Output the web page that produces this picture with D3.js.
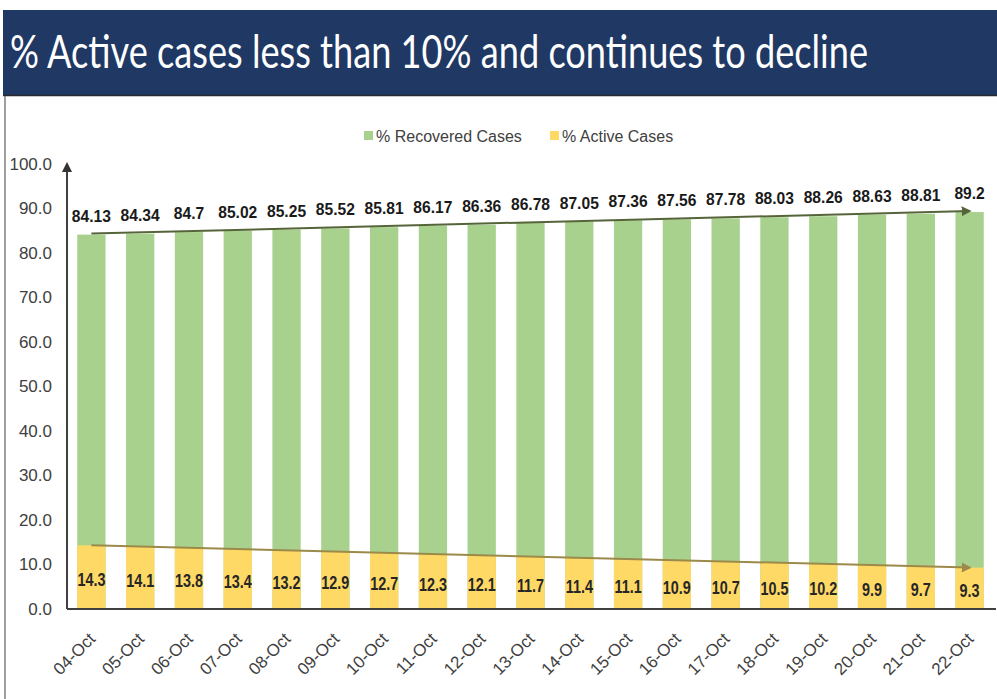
<!DOCTYPE html>
<html>
<head>
<meta charset="utf-8">
<script src="https://cdn.jsdelivr.net/npm/d3@7"></script>
<style>
  body { margin: 0; background: #fff; }
  svg { display: block; }
</style>
</head>
<body>
<script>
// data
var dates = ['04-Oct','05-Oct','06-Oct','07-Oct','08-Oct','09-Oct','10-Oct','11-Oct','12-Oct','13-Oct',
             '14-Oct','15-Oct','16-Oct','17-Oct','18-Oct','19-Oct','20-Oct','21-Oct','22-Oct'];
var recovered = [84.13, 84.34, 84.7, 85.02, 85.25, 85.52, 85.81, 86.17, 86.36, 86.78,
                 87.05, 87.36, 87.56, 87.78, 88.03, 88.26, 88.63, 88.81, 89.2];
var active = [14.3, 14.1, 13.8, 13.4, 13.2, 12.9, 12.7, 12.3, 12.1, 11.7,
              11.4, 11.1, 10.9, 10.7, 10.5, 10.2, 9.9, 9.7, 9.3];
var yTicks = [0, 10, 20, 30, 40, 50, 60, 70, 80, 90, 100];
var seriesNames = ['% Recovered Cases', '% Active Cases'];

var width = 997, height = 699;
var green = '#a9d18e', yellow = '#ffd966';
var labelFont = '"Liberation Sans", Arial, sans-serif';

var svg = d3.select('body').append('svg')
    .attr('width', width)
    .attr('height', height);

var defs = svg.append('defs');
function arrow(id, color) {
    defs.append('marker')
        .attr('id', id)
        .attr('viewBox', '0 0 10 10')
        .attr('refX', 8).attr('refY', 5)
        .attr('markerWidth', 5).attr('markerHeight', 5)
        .attr('orient', 'auto')
        .append('path')
        .attr('d', 'M0,0 L10,5 L0,10 z')
        .attr('fill', color);
}
arrow('arrAxis', '#333');
arrow('arrTop', '#56643a');
arrow('arrBot', '#9c8a4a');

// header
svg.append('rect')
    .attr('x', 3).attr('y', 10)
    .attr('width', width - 3).attr('height', 85)
    .attr('fill', '#1f3864');
svg.append('line')
    .attr('x1', 3).attr('x2', width)
    .attr('y1', 95.5).attr('y2', 95.5)
    .attr('stroke', '#2a2a2a').attr('stroke-width', 1.5);
svg.append('text')
    .attr('transform', 'translate(10,68) scale(1,1.15)')
    .attr('fill', '#fff')
    .style('font-family', 'Lato, "Open Sans", sans-serif')
    .style('font-size', '41px')
    .attr('textLength', 858)
    .attr('lengthAdjust', 'spacingAndGlyphs')
    .text('% Active cases less than 10% and continues to decline');

// left frame line
svg.append('line')
    .attr('x1', 5).attr('x2', 5)
    .attr('y1', 96).attr('y2', height)
    .attr('stroke', '#7f7f7f').attr('stroke-width', 1.5);

var x = d3.scaleBand()
    .domain(dates)
    .range([67, 994])
    .paddingInner(0.42)
    .paddingOuter(0.21);

var y = d3.scaleLinear()
    .domain([0, 100])
    .range([609, 164]);

// legend
var legend = svg.append('g').attr('transform', 'translate(364,136)');
var legendItems = [{name: seriesNames[0], color: green, dx: 0}, {name: seriesNames[1], color: yellow, dx: 186}];
legendItems.forEach(function(d) {
    var g = legend.append('g').attr('transform', 'translate(' + d.dx + ',0)');
    g.append('rect').attr('x', 0).attr('y', -5).attr('width', 9).attr('height', 9).attr('fill', d.color);
    g.append('text')
        .attr('x', 12).attr('y', 6)
        .attr('fill', '#404040')
        .style('font-family', labelFont)
        .style('font-size', '16px')
        .text(d.name);
});

// y axis
var yAxis = d3.axisLeft(y)
    .tickValues(yTicks)
    .tickSize(0)
    .tickPadding(15)
    .tickFormat(d3.format('.1f'));
var yg = svg.append('g')
    .attr('transform', 'translate(67,0)')
    .call(yAxis);
yg.select('.domain').remove();
yg.selectAll('text')
    .attr('fill', '#404040')
    .style('font-family', labelFont)
    .style('font-size', '17px');

// bars
svg.append('g').selectAll('rect')
    .data(recovered)
    .enter().append('rect')
    .attr('x', function(d, i) { return x(dates[i]); })
    .attr('y', function(d) { return y(d); })
    .attr('width', x.bandwidth())
    .attr('height', function(d) { return y(0) - y(d); })
    .attr('fill', green);

svg.append('g').selectAll('rect')
    .data(active)
    .enter().append('rect')
    .attr('x', function(d, i) { return x(dates[i]); })
    .attr('y', function(d) { return y(d); })
    .attr('width', x.bandwidth())
    .attr('height', function(d) { return y(0) - y(d); })
    .attr('fill', yellow);

// trend arrows
var cx = function(i) { return x(dates[i]) + x.bandwidth() / 2; };
var last = dates.length - 1;
svg.append('line')
    .attr('x1', cx(0)).attr('y1', y(recovered[0]) - 1)
    .attr('x2', cx(last)).attr('y2', y(recovered[last]) - 1)
    .attr('stroke', '#56643a').attr('stroke-width', 2)
    .attr('marker-end', 'url(#arrTop)');
svg.append('line')
    .attr('x1', cx(0)).attr('y1', y(active[0]))
    .attr('x2', cx(last)).attr('y2', y(active[last]))
    .attr('stroke', '#9c8a4a').attr('stroke-width', 2)
    .attr('marker-end', 'url(#arrBot)');

// value labels (condensed look)
svg.append('g').selectAll('text')
    .data(recovered)
    .enter().append('text')
    .attr('transform', function(d, i) { return 'translate(' + cx(i) + ',' + (y(d) - 13) + ') scale(0.92,1)'; })
    .attr('text-anchor', 'middle')
    .attr('fill', '#1a1a1a')
    .style('font-family', labelFont)
    .style('font-weight', 'bold')
    .style('font-size', '17px')
    .text(function(d) { return d; });

svg.append('g').selectAll('text')
    .data(active)
    .enter().append('text')
    .attr('transform', function(d, i) { return 'translate(' + cx(i) + ',' + (y(d / 2) + 9) + ') scale(0.8,1)'; })
    .attr('text-anchor', 'middle')
    .attr('fill', '#262626')
    .style('font-family', labelFont)
    .style('font-weight', 'bold')
    .style('font-size', '18px')
    .text(function(d) { return d; });

// axis lines
svg.append('line')
    .attr('x1', 67).attr('x2', 996)
    .attr('y1', y(0)).attr('y2', y(0))
    .attr('stroke', '#404040').attr('stroke-width', 2);
svg.append('line')
    .attr('x1', 67).attr('x2', 67)
    .attr('y1', y(0)).attr('y2', y(100))
    .attr('stroke', '#404040').attr('stroke-width', 2)
    .attr('marker-end', 'url(#arrAxis)');

// x axis labels
var xAxis = d3.axisBottom(x).tickSize(0).tickPadding(0);
var xg = svg.append('g')
    .attr('transform', 'translate(0,' + y(0) + ')')
    .call(xAxis);
xg.select('.domain').remove();
xg.selectAll('text')
    .attr('fill', '#404040')
    .style('font-family', labelFont)
    .style('font-size', '17px')
    .attr('text-anchor', 'end')
    .attr('y', 0)
    .attr('dy', 0)
    .attr('transform', 'translate(5,31) rotate(-45)');
</script>
</body>
</html>
